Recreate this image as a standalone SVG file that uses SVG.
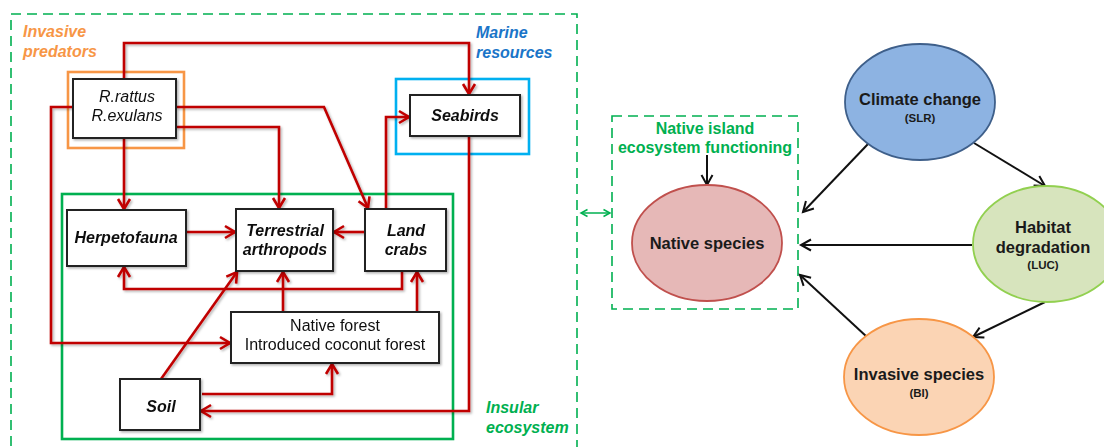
<svg xmlns="http://www.w3.org/2000/svg" width="1104" height="447" viewBox="0 0 1104 447">
<style>
text{font-family:"Liberation Sans",Arial,sans-serif;}
.box{fill:#fff;stroke:#222;stroke-width:2;}
.lbl{font-size:16px;text-anchor:middle;fill:#111;}
.bi{font-weight:bold;font-style:italic;}
.it{font-style:italic;}
.red{fill:none;stroke:#c00000;stroke-width:2.6;stroke-linejoin:miter;marker-end:url(#ra);}
.blk{fill:none;stroke:#111;stroke-width:2;marker-end:url(#ba);}
.ell{stroke-width:1.8;}
.t{font-size:16.5px;font-weight:bold;text-anchor:middle;fill:#1a1a1a;}
.s{font-size:11.5px;font-weight:bold;text-anchor:middle;fill:#1a1a1a;}
.grp{font-size:16px;font-weight:bold;font-style:italic;}
</style>
<defs>
<filter id="sh" x="-10%" y="-10%" width="120%" height="120%">
<feDropShadow dx="1.5" dy="1.5" stdDeviation="1" flood-color="#000" flood-opacity="0.3"/>
</filter>
<marker id="ra" markerUnits="userSpaceOnUse" markerWidth="16" markerHeight="16" refX="12" refY="8" orient="auto">
<path d="M2,2 L12,8 L2,14" fill="none" stroke="#c00000" stroke-width="2.6"/>
</marker>
<marker id="ba" markerUnits="userSpaceOnUse" markerWidth="16" markerHeight="16" refX="12" refY="8" orient="auto">
<path d="M2,2.5 L12,8 L2,13.5" fill="none" stroke="#111" stroke-width="2"/>
</marker>
<marker id="ga" markerUnits="userSpaceOnUse" markerWidth="10" markerHeight="10" refX="7.5" refY="5" orient="auto-start-reverse">
<path d="M1,1.5 L7.5,5 L1,8.5" fill="none" stroke="#00b050" stroke-width="1.5"/>
</marker>
</defs>

<g id="frames">
<rect x="11" y="14" width="566" height="450" fill="none" stroke="#00b050" stroke-width="1.6" stroke-dasharray="10,6"/>
<rect x="68" y="72" width="116" height="76" fill="none" stroke="#f79646" stroke-width="2.6"/>
<rect x="396" y="79" width="133" height="75" fill="none" stroke="#00b0f0" stroke-width="2.6"/>
<rect x="62" y="194" width="391" height="245" fill="none" stroke="#00b050" stroke-width="2.6"/>
<rect x="612" y="116" width="186" height="193" fill="none" stroke="#00b050" stroke-width="1.6" stroke-dasharray="10,6"/>
<text class="grp" fill="#f79646" x="23" y="37">Invasive</text>
<text class="grp" fill="#f79646" x="23" y="57">predators</text>
<text class="grp" fill="#1a75c8" x="476" y="38">Marine</text>
<text class="grp" fill="#1a75c8" x="476" y="58">resources</text>
<text class="grp" fill="#00b050" x="486" y="413">Insular</text>
<text class="grp" fill="#00b050" x="486" y="433">ecosystem</text>
<text fill="#00b050" font-size="16" font-weight="bold" text-anchor="middle" x="705" y="134">Native island</text>
<text fill="#00b050" font-size="16" font-weight="bold" text-anchor="middle" x="705" y="153">ecosystem functioning</text>
</g>

<g id="connectors">
<g filter="url(#sh)">
<path class="red" d="M124,79 V43 H469 V94"/>
<path class="red" d="M124,138 V209"/>
<path class="red" d="M73,107 H51 V343 H230"/>
<path class="red" d="M176,107 H324 L368,208"/>
<path class="red" d="M176,127 H279 V208"/>
<path class="red" d="M186,232 H235"/>
<path class="red" d="M365,232 H334"/>
<path class="red" d="M402,271 V289 H124 V267"/>
<path class="red" d="M283,312 V272"/>
<path class="red" d="M417,312 V272"/>
<path class="red" d="M161,379 L237,272"/>
<path class="red" d="M202,394 H332 V364"/>
<path class="red" d="M469,136 V411 H201"/>
<path class="red" d="M386,209 V117 H409"/>
</g>
<path d="M581,213 H610" fill="none" stroke="#00b050" stroke-width="1.5" marker-start="url(#ga)" marker-end="url(#ga)"/>
<path class="blk" d="M707,155 V185" stroke-width="1.6"/>
<path class="blk" d="M868,144 L803,212"/>
<path class="blk" d="M974,143 L1045,186"/>
<path class="blk" d="M972,245 H801"/>
<path class="blk" d="M1045,302 L973,337"/>
<path class="blk" d="M867,337 L800,275"/>
</g>

<g id="rats" filter="url(#sh)">
<rect class="box" x="73" y="79" width="103" height="59"/>
<text class="lbl it" x="127" y="102">R.rattus</text>
<text class="lbl it" x="127" y="121">R.exulans</text>
</g>
<g id="seabirds" filter="url(#sh)">
<rect class="box" x="410" y="95" width="110" height="41"/>
<text class="lbl bi" x="465" y="121">Seabirds</text>
</g>
<g id="herpetofauna" filter="url(#sh)">
<rect class="box" x="67" y="210" width="119" height="56"/>
<text class="lbl bi" x="126" y="243">Herpetofauna</text>
</g>
<g id="arthropods" filter="url(#sh)">
<rect class="box" x="236" y="209" width="97" height="62"/>
<text class="lbl bi" x="285" y="236">Terrestrial</text>
<text class="lbl bi" x="285" y="255">arthropods</text>
</g>
<g id="landcrabs" filter="url(#sh)">
<rect class="box" x="365" y="209" width="81" height="62"/>
<text class="lbl bi" x="406" y="236">Land</text>
<text class="lbl bi" x="406" y="255">crabs</text>
</g>
<g id="forest" filter="url(#sh)">
<rect class="box" x="231" y="312" width="208" height="51"/>
<text class="lbl" x="335" y="331">Native forest</text>
<text class="lbl" x="335" y="350">Introduced coconut forest</text>
</g>
<g id="soil" filter="url(#sh)">
<rect class="box" x="120" y="379" width="80" height="51"/>
<text class="lbl bi" x="161" y="412">Soil</text>
</g>

<g id="native-species">
<ellipse class="ell" cx="707" cy="243" rx="75" ry="58" fill="#e6b8b7" stroke="#c0504d"/>
<text class="t" x="707" y="249" font-size="17">Native species</text>
</g>
<g id="climate">
<ellipse class="ell" cx="920" cy="102" rx="75" ry="58" fill="#8db3e2" stroke="#3e5f8a"/>
<text class="t" x="920" y="105">Climate change</text>
<text class="s" x="920" y="122">(SLR)</text>
</g>
<g id="habitat">
<ellipse class="ell" cx="1047" cy="244" rx="74" ry="58" fill="#d7e4bd" stroke="#92d050"/>
<text class="t" x="1043" y="233">Habitat</text>
<text class="t" x="1043" y="253">degradation</text>
<text class="s" x="1043" y="269">(LUC)</text>
</g>
<g id="invasive">
<ellipse class="ell" cx="919" cy="377" rx="75" ry="58" fill="#fbd4b4" stroke="#f79646"/>
<text class="t" x="919" y="380">Invasive species</text>
<text class="s" x="919" y="397">(BI)</text>
</g>
</svg>
